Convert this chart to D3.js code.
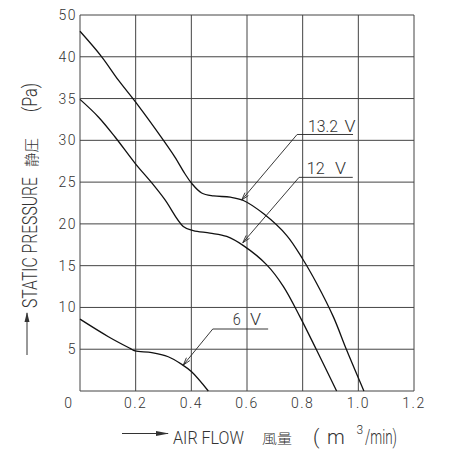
<!DOCTYPE html>
<html>
<head>
<meta charset="utf-8">
<script src="https://cdn.jsdelivr.net/npm/d3@7"></script>
<style>
  body { margin: 0; background: #fff; }
  text { font-family: Roboto, "DejaVu Sans", sans-serif; font-weight: 300; fill: #333; }
</style>
</head>
<body>
<div id="chart"></div>
<script>
// tick values
const xTicks = [0, 0.2, 0.4, 0.6, 0.8, 1.0, 1.2];
const yTicks = [0, 5, 10, 15, 20, 25, 30, 35, 40, 50];

// curves: [air flow, static pressure]
const v132 = [[0, 46.1], [0.078, 40.0], [0.138, 37.2], [0.204, 34.4], [0.30, 30.0], [0.341, 28.0],
  [0.377, 26.0], [0.40, 24.9], [0.437, 23.7], [0.48, 23.35], [0.54, 23.2], [0.587, 22.8],
  [0.66, 21.2], [0.743, 18.6], [0.80, 15.8], [0.85, 12.9], [0.91, 8.9], [0.958, 4.9], [1.02, 0]];
const v12 = [[0, 34.9], [0.066, 32.8], [0.126, 30.4], [0.198, 27.25], [0.258, 24.9], [0.305, 22.9],
  [0.371, 19.7], [0.407, 19.2], [0.467, 18.9], [0.527, 18.5], [0.587, 17.4],
  [0.671, 15.1], [0.731, 12.5], [0.79, 8.9], [0.85, 4.9], [0.922, 0]];
const v6 = [[0, 8.6], [0.102, 6.5], [0.18, 5.1], [0.198, 4.8], [0.258, 4.6], [0.317, 4.1],
  [0.365, 3.2], [0.401, 2.3], [0.461, 0]];

// curve labels: number, unit, positions, underline, arrow tip
const labels = [
  { num: "13.2", nx: 0.819, nlen: 30, ux: 0.95, ty: 31.0, x0: 0.78, x1: 0.981, uy: 30.7, tip: [0.581, 22.86] },
  { num: "12", nx: 0.815, nlen: 18, ux: 0.916, ty: 25.97, x0: 0.787, x1: 0.98, uy: 25.57, tip: [0.585, 17.75] },
  { num: "6", nx: 0.549, nlen: 8, ux: 0.611, ty: 7.9, x0: 0.477, x1: 0.676, uy: 7.42, tip: [0.371, 3.1] }
];

const width = 451, height = 450;
const margin = { top: 15, right: 37, bottom: 59, left: 80 };
const w = width - margin.left - margin.right;
const h = height - margin.top - margin.bottom;

const svg = d3.select("#chart").append("svg")
  .attr("width", width)
  .attr("height", height);

const x = d3.scaleLinear().domain([0, 1.2]).range([margin.left, margin.left + w]);
// top step of the drawing goes 40 -> 50 in one grid cell
const y = d3.scaleLinear().domain([0, 40, 50])
  .range([margin.top + h, margin.top + h - 8 * h / 9, margin.top]);

// grid
svg.append("g").selectAll("line").data(xTicks).join("line")
  .attr("x1", d => x(d)).attr("x2", d => x(d))
  .attr("y1", y(0)).attr("y2", y(50))
  .attr("stroke", "#444").attr("stroke-width", 1);

svg.append("g").selectAll("line").data(yTicks).join("line")
  .attr("x1", x(0)).attr("x2", x(1.2))
  .attr("y1", d => y(d)).attr("y2", d => y(d))
  .attr("stroke", "#444").attr("stroke-width", 1);

// tick labels
svg.append("g").selectAll("text").data(yTicks.filter(d => d > 0)).join("text")
  .attr("x", x(0) - 3).attr("y", d => y(d) + 5)
  .attr("text-anchor", "end")
  .style("font-size", "14px").style("letter-spacing", "1.5px")
  .text(d => d);

svg.append("g").selectAll("text").data(xTicks).join("text")
  .attr("x", d => d === 0 ? x(0) - 11 : x(d)).attr("y", y(0) + 17)
  .attr("text-anchor", "middle")
  .style("font-size", "14px").style("letter-spacing", "1.5px")
  .text(d => d === 0 ? "0" : d.toFixed(1));

// curves
const line = d3.line().x(d => x(d[0])).y(d => y(d[1])).curve(d3.curveCatmullRom.alpha(0.5));
[v132, v12, v6].forEach(s => {
  svg.append("path").datum(s)
    .attr("d", line)
    .attr("fill", "none")
    .attr("stroke", "#111")
    .attr("stroke-width", 1.3);
});

// curve labels with leaders
labels.forEach(l => {
  svg.append("text")
    .attr("x", x(l.nx)).attr("y", y(l.ty))
    .attr("textLength", l.nlen).attr("lengthAdjust", "spacingAndGlyphs")
    .style("font-size", "17px")
    .text(l.num);
  svg.append("text")
    .attr("x", x(l.ux)).attr("y", y(l.ty))
    .attr("textLength", 11).attr("lengthAdjust", "spacingAndGlyphs")
    .style("font-size", "17px")
    .text("V");
  const tx = x(l.tip[0]), ty = y(l.tip[1]);
  const sx = x(l.x0), sy = y(l.uy);
  svg.append("path")
    .attr("d", `M${x(l.x1)},${sy}L${sx},${sy}L${tx},${ty}`)
    .attr("fill", "none").attr("stroke", "#222").attr("stroke-width", 0.9);
  const a = Math.atan2(sy - ty, sx - tx);
  const al = 8, aw = 0.28;
  svg.append("path")
    .attr("d", `M${tx + al * Math.cos(a + aw)},${ty + al * Math.sin(a + aw)}L${tx},${ty}L${tx + al * Math.cos(a - aw)},${ty + al * Math.sin(a - aw)}`)
    .attr("fill", "none").attr("stroke", "#222").attr("stroke-width", 0.9);
});

// x axis title
const xt = svg.append("g");
xt.append("line").attr("x1", 122).attr("x2", 168).attr("y1", 433.5).attr("y2", 433.5)
  .attr("stroke", "#333").attr("stroke-width", 1);
xt.append("path").attr("d", "M156,431L169,433.5L156,436Z").attr("fill", "#333");
xt.append("text").attr("x", 173).attr("y", 443.5)
  .attr("textLength", 71).attr("lengthAdjust", "spacingAndGlyphs")
  .style("font-size", "18px").text("AIR FLOW");
xt.append("text").attr("x", 262).attr("y", 443)
  .attr("textLength", 30).attr("lengthAdjust", "spacingAndGlyphs")
  .style("font-family", "'Noto Sans CJK JP'").style("font-size", "13px").text("風量");
xt.append("text").attr("x", 313).attr("y", 444)
  .style("font-size", "20px").text("(");
xt.append("text").attr("x", 327).attr("y", 443.5)
  .style("font-size", "20px").text("m");
xt.append("text").attr("x", 356.5).attr("y", 434)
  .style("font-size", "12px").text("3");
xt.append("text").attr("x", 365).attr("y", 443.5)
  .attr("textLength", 32).attr("lengthAdjust", "spacingAndGlyphs")
  .style("font-size", "20px").text("/min)");

// y axis title
const yt = svg.append("g").attr("transform", "translate(37,0) rotate(-90)");
yt.append("line").attr("x1", -355).attr("x2", -313).attr("y1", -10).attr("y2", -10)
  .attr("stroke", "#333").attr("stroke-width", 1);
yt.append("path").attr("d", "M-322,-12.5L-312,-10L-322,-7.5Z").attr("fill", "#333");
yt.append("text").attr("x", -308).attr("y", 0)
  .attr("textLength", 131).attr("lengthAdjust", "spacingAndGlyphs")
  .style("font-size", "21px").text("STATIC PRESSURE");
yt.append("text").attr("x", -167).attr("y", 0)
  .attr("textLength", 29).attr("lengthAdjust", "spacingAndGlyphs")
  .style("font-family", "'Noto Sans CJK JP'").style("font-size", "15px").text("静圧");
yt.append("text").attr("x", -112).attr("y", 0)
  .attr("textLength", 29).attr("lengthAdjust", "spacingAndGlyphs")
  .style("font-size", "21px").text("(Pa)");
</script>
</body>
</html>
